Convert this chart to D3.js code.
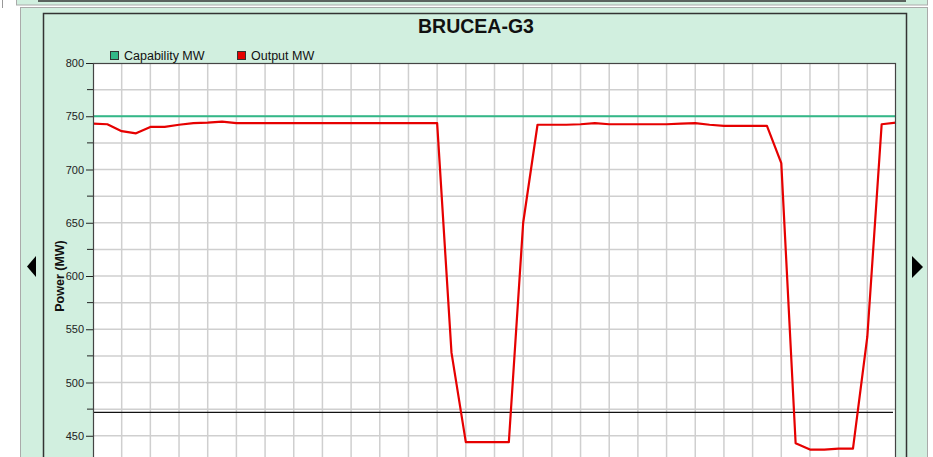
<!DOCTYPE html>
<html>
<head>
<meta charset="utf-8">
<script src="https://cdn.jsdelivr.net/npm/d3@7"></script>
<style>
    body { margin: 0; background: #fff; overflow: hidden; }
    svg { display: block; font-family: "Liberation Sans", Arial, sans-serif; }
    .tick text { font-size: 11px; fill: #222; }
</style>
</head>
<body>
<div id="vis"></div>
<script>
// chart values
var title = 'BRUCEA-G3';
var seriesNames = ['Capability MW', 'Output MW'];
var seriesColors = ['#33b888', '#e60000'];
var capabilityMW = 750;
var minLineMW = 472;
var yTicks = [450, 500, 550, 600, 650, 700, 750, 800];
// output sampled every half grid step (0 .. 28)
var outputMW = [
    743, 742.5, 736, 734, 740, 740, 742, 743.5, 744, 745,
    743.5, 743.5, 743.5, 743.5, 743.5, 743.5, 743.5, 743.5, 743.5, 743.5,
    743.5, 743.5, 743.5, 743.5, 743.5, 528, 444, 444, 444, 444,
    650, 742, 742, 742, 742.5, 743.5, 742.5, 742.5, 742.5, 742.5,
    742.5, 743, 743.5, 742, 741, 741, 741, 741, 706, 443,
    437, 437, 438, 438, 543, 742.5, 744
];

var data = outputMW.map(function (v, i) {
    return { t: i / 2, mw: v };
});

var width = 933, height = 457;
var margin = { left: 93, top: 63 };
var plotW = 803, plotH = 426;
var mint = '#d1efdf';

var svg = d3.select('#vis')
    .append('svg')
    .attr('width', width)
    .attr('height', height);

/* ****** Frames ****** */
svg.append('line')
    .attr('x1', 2.5).attr('x2', 2.5).attr('y1', 0).attr('y2', 8)
    .attr('stroke', '#999');

svg.append('rect')
    .attr('x', 16.5).attr('y', -6).attr('width', 911).attr('height', 11)
    .attr('fill', mint).attr('stroke', '#aaa');
svg.append('line')
    .attr('x1', 38).attr('x2', 906).attr('y1', 1).attr('y2', 1)
    .attr('stroke', '#333').attr('stroke-width', 1.5);

svg.append('rect')
    .attr('x', 20.5).attr('y', 7.5).attr('width', 907).attr('height', 470)
    .attr('fill', mint).attr('stroke', '#aaa');

svg.append('rect')
    .attr('x', 43.5).attr('y', 13.5).attr('width', 863).attr('height', 470)
    .attr('fill', mint).attr('stroke', '#333').attr('stroke-width', 1.5);

// navigation arrows
svg.append('path')
    .attr('d', 'M27,266.5 L36,256 L36,277 Z')
    .attr('fill', '#000');
svg.append('path')
    .attr('d', 'M912,256 L923,267 L912,278 Z')
    .attr('fill', '#000');

/* ****** Title ****** */
svg.append('text')
    .attr('x', 476)
    .attr('y', 33)
    .attr('text-anchor', 'middle')
    .style('font-size', '19.5px')
    .style('font-weight', 'bold')
    .attr('fill', '#111')
    .text(title);

/* ****** Legend ****** */
var legendX = [110, 237];
seriesNames.forEach(function (name, i) {
    svg.append('rect')
        .attr('x', legendX[i] + 0.5).attr('y', 51.5)
        .attr('width', 8).attr('height', 8)
        .attr('fill', seriesColors[i])
        .attr('stroke', '#333');
    svg.append('text')
        .attr('x', legendX[i] + 14)
        .attr('y', 60)
        .style('font-size', '12.5px')
        .attr('fill', '#111')
        .text(name);
});

/* ****** Scales ****** */
var xScale = d3.scaleLinear()
    .domain([0, 28])
    .range([0, plotW]);

var yScale = d3.scaleLinear()
    .domain([400, 800])
    .range([plotH, 0]);

var g = svg.append('g')
    .attr('transform', 'translate(' + margin.left + ',' + margin.top + ')');

g.append('rect')
    .attr('width', plotW).attr('height', plotH)
    .attr('fill', '#fff');

/* ****** Grid ****** */
g.selectAll('.hgrid')
    .data(d3.range(425, 800, 25))
    .enter()
    .append('line')
    .attr('class', 'hgrid')
    .attr('x1', 0).attr('x2', plotW)
    .attr('y1', function (d) { return yScale(d); })
    .attr('y2', function (d) { return yScale(d); })
    .attr('stroke', '#cfcfcf')
    .attr('stroke-width', 1.5);

g.selectAll('.vgrid')
    .data(d3.range(1, 28))
    .enter()
    .append('line')
    .attr('class', 'vgrid')
    .attr('y1', 0).attr('y2', plotH)
    .attr('x1', function (d) { return xScale(d); })
    .attr('x2', function (d) { return xScale(d); })
    .attr('stroke', '#cfcfcf')
    .attr('stroke-width', 1.5);

/* ****** Axis ****** */
var yAxis = d3.axisLeft(yScale)
    .tickValues(yTicks)
    .tickSize(7)
    .tickPadding(2)
    .tickFormat(d3.format('d'));

var yAxisG = g.append('g')
    .attr('class', 'axis')
    .call(yAxis);
yAxisG.select('.domain').remove();
yAxisG.selectAll('line').attr('stroke', '#222');

// minor ticks between labels
g.selectAll('.minor')
    .data(d3.range(425, 800, 50))
    .enter()
    .append('line')
    .attr('x1', -6).attr('x2', 0)
    .attr('y1', function (d) { return yScale(d); })
    .attr('y2', function (d) { return yScale(d); })
    .attr('stroke', '#222');

svg.append('text')
    .attr('transform', 'translate(64,276) rotate(-90)')
    .attr('text-anchor', 'middle')
    .style('font-size', '12.5px')
    .style('font-weight', 'bold')
    .attr('fill', '#111')
    .text('Power (MW)');

/* ****** Lines ****** */
g.append('line')
    .attr('x1', 0).attr('x2', plotW - 3)
    .attr('y1', yScale(minLineMW)).attr('y2', yScale(minLineMW))
    .attr('stroke', '#111')
    .attr('stroke-width', 1.3);

g.append('line')
    .attr('x1', 0).attr('x2', plotW)
    .attr('y1', yScale(capabilityMW)).attr('y2', yScale(capabilityMW))
    .attr('stroke', seriesColors[0])
    .attr('stroke-width', 2.2);

var line = d3.line()
    .x(function (d) { return xScale(d.t); })
    .y(function (d) { return yScale(d.mw); });

g.append('path')
    .datum(data)
    .attr('d', line)
    .attr('fill', 'none')
    .attr('stroke', seriesColors[1])
    .attr('stroke-width', 2.2)
    .attr('stroke-linejoin', 'round');

// plot border
g.append('rect')
    .attr('x', 0.5).attr('y', 0.5)
    .attr('width', plotW - 1).attr('height', plotH)
    .attr('fill', 'none')
    .attr('stroke', '#444')
    .attr('stroke-width', 1.2);
</script>
</body>
</html>
